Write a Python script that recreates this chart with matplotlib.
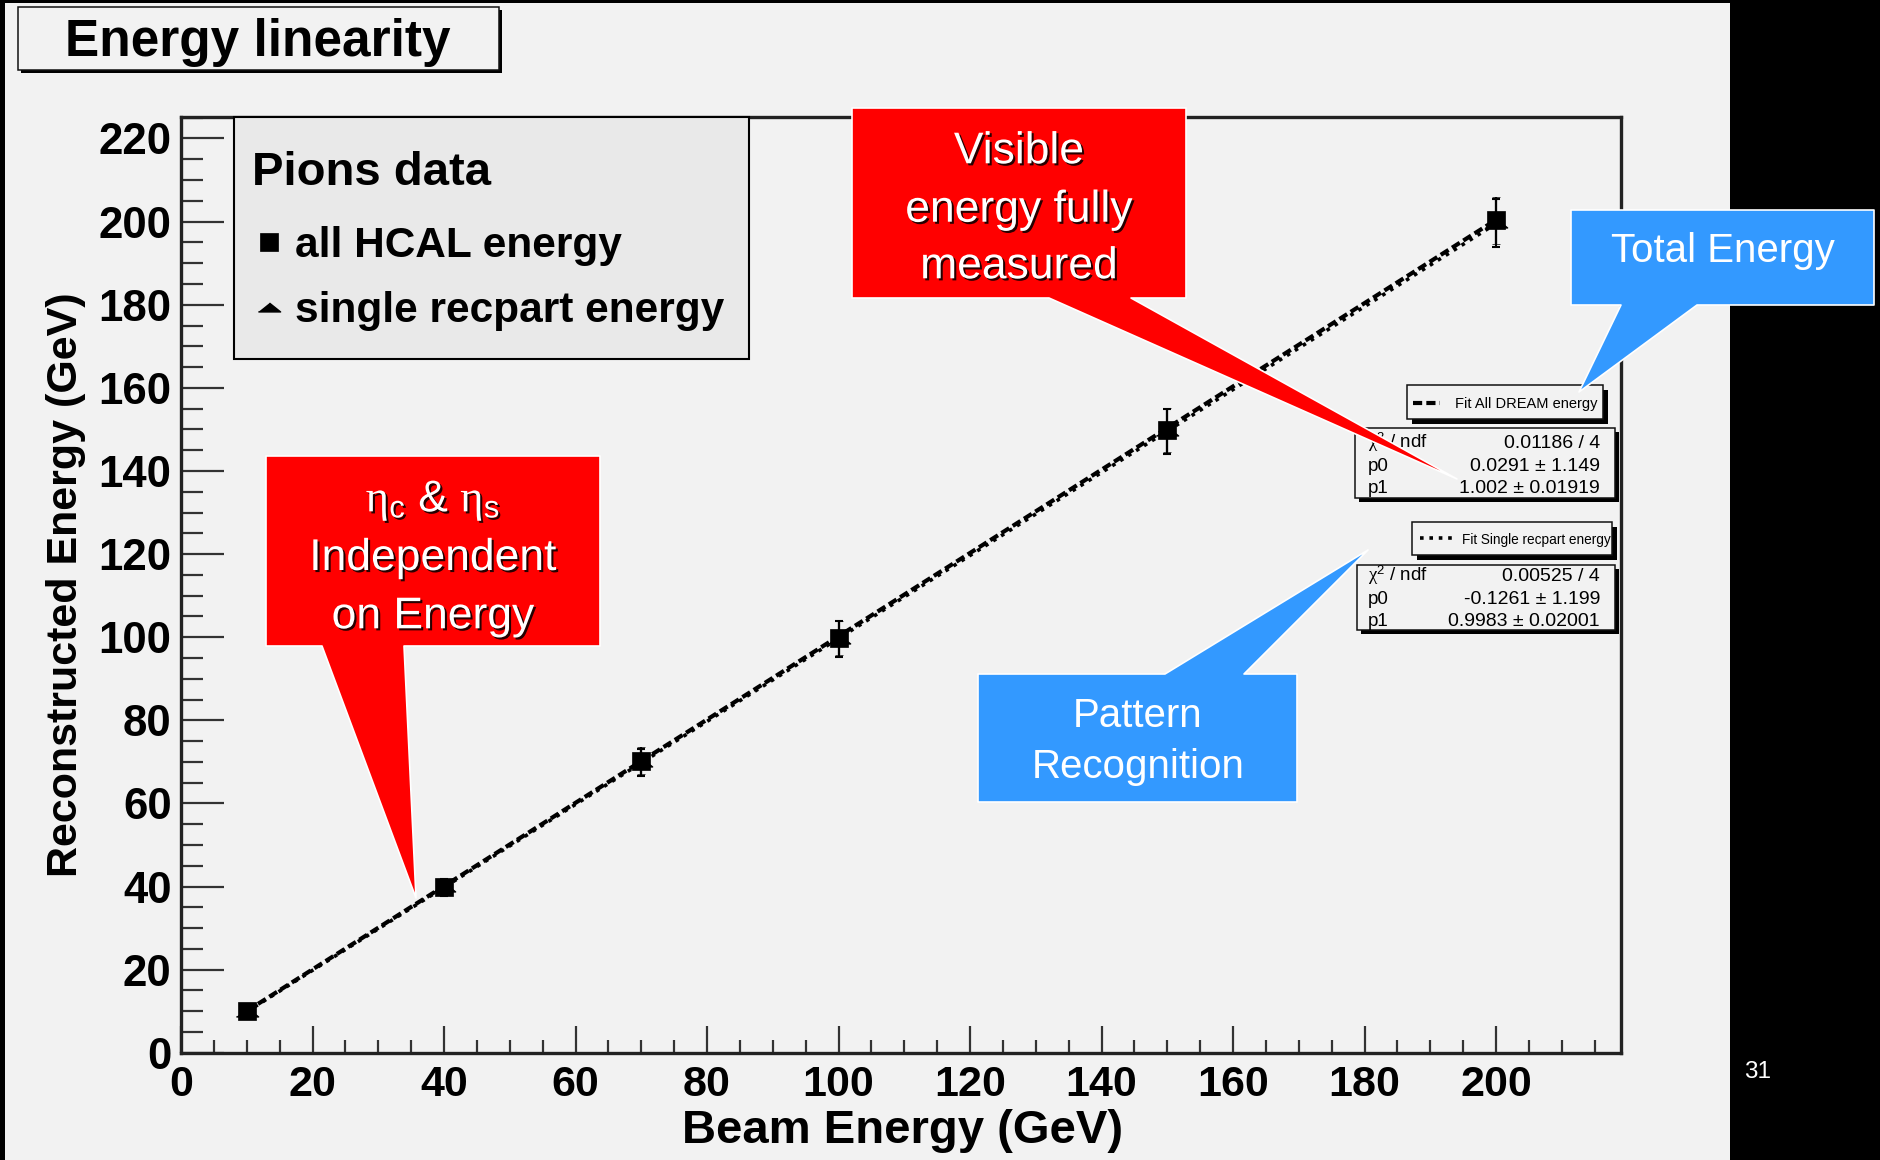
import matplotlib
matplotlib.use("Agg")
import matplotlib.pyplot as plt
import matplotlib.patheffects as pe
from matplotlib.patches import Rectangle, Polygon
from matplotlib.lines import Line2D
from matplotlib.ticker import MultipleLocator
from matplotlib.font_manager import FontProperties
import numpy as np

# beam scan points and reconstructed energies (GeV)
beam_energy = [10, 40, 70, 100, 150, 200]
hcal_energy = [10.1, 40.0, 70.3, 99.8, 149.8, 200.3]
hcal_error = [1.2, 1.9, 3.2, 4.2, 5.3, 5.6]
recpart_energy = [9.9, 39.8, 69.9, 99.6, 149.5, 199.7]
recpart_error = [1.3, 2.0, 3.3, 4.4, 5.5, 5.8]

# straight line fits: p0, err p0, p1, err p1, chi2, ndf
fit_all = [0.0291, 1.149, 1.002, 0.01919, 0.01186, 4]
fit_single = [-0.1261, 1.199, 0.9983, 0.02001, 0.00525, 4]

legend_labels = ["all HCAL energy", "single recpart energy"]
fit_labels = ["Fit All DREAM energy", "Fit Single recpart energy"]

plt.rcParams["font.family"] = ["Liberation Sans", "DejaVu Sans"]
plt.rcParams["mathtext.fontset"] = "custom"
plt.rcParams["mathtext.rm"] = "Liberation Serif"
plt.rcParams["mathtext.sf"] = "Liberation Sans"
plt.rcParams["mathtext.it"] = "Liberation Serif:italic"
plt.rcParams["mathtext.bf"] = "Liberation Serif:bold"

W, H = 1881, 1160
BG = "#f2f2f2"
DASHED = dict(lw=3.0, dashes=(2.2, 1.0))
DOTTED = dict(lw=2.6, dashes=(1.0, 1.6))

fig = plt.figure(figsize=(W / 100, H / 100), dpi=100, facecolor="black")


def fx(x):
    return x / W


def fy(y):
    return 1 - y / H


def fxy(x, y):
    return (x / W, 1 - y / H)


# canvas area (the slide is black on the right)
fig.add_artist(Rectangle((fx(5), 0), fx(1730) - fx(5), fy(3), transform=fig.transFigure,
                         facecolor=BG, edgecolor="none", zorder=-10))

AX_L, AX_R, AX_T, AX_B = 181, 1621, 117.3, 1052.8
ax = fig.add_axes([fx(AX_L), fy(AX_B), fx(AX_R) - fx(AX_L), fy(AX_T) - fy(AX_B)])
ax.set_facecolor(BG)
ax.set_xlim(0, 219)
ax.set_ylim(0, 225.1)


def ax_x(px):
    return (px - AX_L) / (AX_R - AX_L)


def ax_y(py):
    return (AX_B - py) / (AX_B - AX_T)


# fitted lines over the fit range
fit_x = np.array([beam_energy[0], beam_energy[-1]], dtype=float)
ax.plot(fit_x, fit_all[0] + fit_all[2] * fit_x, color="black", zorder=2, **DASHED)
ax.plot(fit_x, fit_single[0] + fit_single[2] * fit_x, color="black", zorder=2, **DOTTED)

tri = [(-1, -0.4), (1, -0.4), (0, 0.4)]
rec = ax.errorbar(beam_energy, recpart_energy, yerr=recpart_error, marker=tri, ms=16,
                  ls="none", color="black", elinewidth=1.5, capsize=3, capthick=1.5, zorder=3)
hcal = ax.errorbar(beam_energy, hcal_energy, yerr=hcal_error, marker="s", ms=13, mew=0.5,
                   ls="none", color="black", elinewidth=1.6, capsize=3, capthick=1.6, zorder=4)

# axes style
for s in ax.spines.values():
    s.set_linewidth(2.4)
    s.set_color("#222222")
ax.xaxis.set_major_locator(MultipleLocator(20))
ax.xaxis.set_minor_locator(MultipleLocator(5))
ax.yaxis.set_major_locator(MultipleLocator(20))
ax.yaxis.set_minor_locator(MultipleLocator(5))
ax.tick_params(axis="x", which="major", direction="in", length=19.2, width=1.6,
               color="#333333", pad=8.5, labelsize=31)
ax.tick_params(axis="x", which="minor", direction="in", length=9.6, width=1.6, color="#333333")
ax.tick_params(axis="y", which="major", direction="in", length=30.7, width=1.6,
               color="#333333", pad=6.8, labelsize=31.5)
ax.tick_params(axis="y", which="minor", direction="in", length=15.6, width=1.6, color="#333333")
plt.setp(ax.get_xticklabels() + ax.get_yticklabels(), fontweight="bold")

ax.set_xlabel("Beam Energy (GeV)", fontsize=34, fontweight="bold", va="baseline")
ax.xaxis.set_label_coords(0.501, ax_y(1143.3))
ax.set_ylabel("Reconstructed Energy (GeV)", fontsize=31, fontweight="bold", va="baseline")
ax.yaxis.set_label_coords(ax_x(77), 0.5)

# legend of the data sets
ax.add_patch(Rectangle((ax_x(234), ax_y(359.3)), ax_x(749) - ax_x(234), ax_y(116.7) - ax_y(359.3),
                       transform=ax.transAxes, facecolor="#e9e9e9", edgecolor="black",
                       linewidth=1.5, zorder=4.5, clip_on=False))
ax.text(ax_x(252), ax_y(185), "Pions data", transform=ax.transAxes, fontsize=34,
        fontweight="bold", ha="left", va="baseline", zorder=5)
leg = ax.legend([hcal[0], rec[0]], legend_labels, loc="upper left",
                bbox_to_anchor=(ax_x(249), ax_y(226.3)),
                borderaxespad=0, borderpad=0, frameon=False, numpoints=1,
                prop=FontProperties(family="Liberation Sans", weight="bold", size=30.5),
                handlelength=0.93, handletextpad=0.16, labelspacing=0.59)
leg.set_zorder(5)


def pave(x0, y0, x1, y1, shadow=4, z=5):
    w, h = (x1 - x0) / W, (y1 - y0) / H
    fig.add_artist(Rectangle(fxy(x0 + shadow, y1 + shadow), w, h, transform=fig.transFigure,
                             facecolor="black", edgecolor="none", zorder=z))
    fig.add_artist(Rectangle(fxy(x0, y1), w, h, transform=fig.transFigure,
                             facecolor=BG, edgecolor="#111111", linewidth=1.1, zorder=z + 0.1))


# title pave
pave(18.4, 7.3, 499, 70, shadow=3, z=5)
fig.text(fx(258), fy(56), "Energy linearity", fontsize=37, fontweight="bold",
         ha="center", va="baseline", zorder=6)


def fit_box(fit, label, style, box, sample, text_x, text_size, stats, baselines):
    pave(*box, shadow=5, z=5)
    fig.add_artist(Line2D([fx(sample[0]), fx(sample[1])], [fy(sample[2])] * 2,
                          transform=fig.transFigure, color="black", zorder=6, **style))
    fig.text(fx(text_x), fy(sample[2] + 5.5), label, fontsize=text_size,
             ha="left", va="baseline", zorder=6)
    pave(*stats, shadow=4, z=5)
    names = [r"$\mathrm{\chi}^{\mathsf{2}}$ / ndf", "p0", "p1"]
    values = [f"{fit[4]:g} / {fit[5]}", f"{fit[0]:g} ± {fit[1]:g}", f"{fit[2]:g} ± {fit[3]:g}"]
    for name, val, yb in zip(names, values, baselines):
        fig.text(fx(1368), fy(yb), name, fontsize=13.5, ha="left", va="baseline", zorder=6)
        fig.text(fx(1600), fy(yb), val, fontsize=14, ha="right", va="baseline", zorder=6)


fit_box(fit_all, fit_labels[0], DASHED, (1406.7, 385, 1603.3, 419.3),
        (1413, 1440, 402.7), 1455, 10.5, (1355, 428.3, 1615, 498.3), [447.7, 471, 492.7])
fit_box(fit_single, fit_labels[1], DOTTED, (1411.7, 521.7, 1611.7, 555),
        (1420, 1455, 538.3), 1461.7, 9.8, (1356.7, 565, 1615, 630), [581, 604, 626])

# callouts
shadow_fx = [pe.withSimplePatchShadow(offset=(1.5, -1.5), shadow_rgbFace="black", alpha=0.85)]


def callout(verts, color, lines, cx, size, shadow):
    fig.add_artist(Polygon([fxy(*v) for v in verts], closed=True, transform=fig.transFigure,
                           facecolor=color, edgecolor="white", linewidth=1.2,
                           joinstyle="round", zorder=10))
    for txt, base in lines:
        fig.text(fx(cx), fy(base), txt, color="white", fontsize=size, ha="center",
                 va="baseline", zorder=11, path_effects=shadow_fx if shadow else None)


callout([(266, 456), (600, 456), (600, 646), (404, 646), (416, 898), (322, 646), (266, 646)],
        "#ff0000",
        [(r"$\mathrm{\eta}_{\mathsf{c}}$ & $\mathrm{\eta}_{\mathsf{s}}$", 511.7),
         ("Independent", 570), ("on Energy", 628.3)], 433, 32, True)
callout([(852, 108), (1186, 108), (1186, 298), (1131, 298), (1457, 479), (1049, 298), (852, 298)],
        "#ff0000",
        [("Visible", 163.3), ("energy fully", 221.7), ("measured", 278.3)], 1019, 32, True)
callout([(1571, 210), (1874, 210), (1874, 305), (1697, 305), (1579, 392), (1621, 305), (1571, 305)],
        "#3399ff", [("Total Energy", 261.7)], 1722.5, 29, False)
callout([(978, 674), (1165, 674), (1368, 550), (1244, 674), (1297, 674), (1297, 802), (978, 802)],
        "#3399ff", [("Pattern", 726.7), ("Recognition", 778.3)], 1137.7, 29, False)

# slide number
fig.text(fx(1758), fy(1078), "31", color="white", fontsize=17.5, ha="center", va="baseline")

fig.savefig("out.png", dpi=100, facecolor=fig.get_facecolor())
